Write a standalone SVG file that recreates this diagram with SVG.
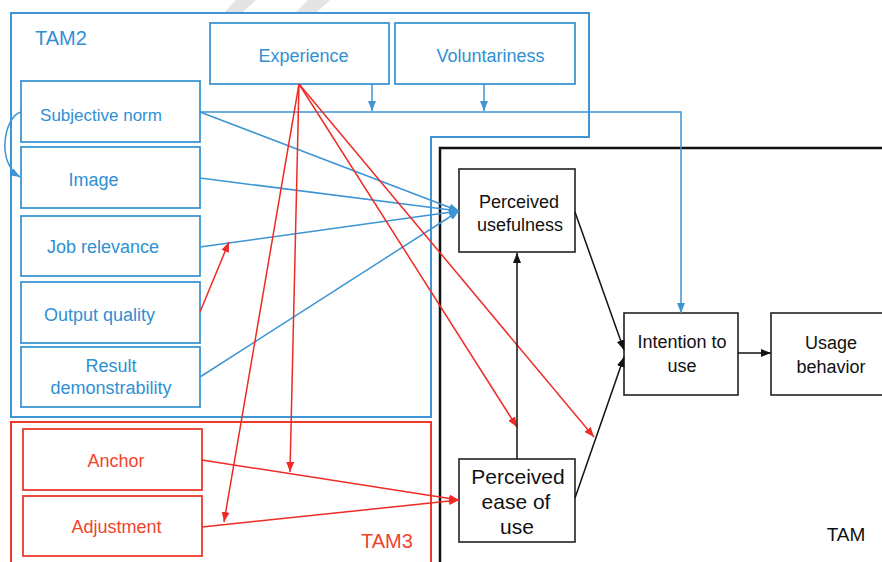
<svg xmlns="http://www.w3.org/2000/svg" width="882" height="562" viewBox="0 0 882 562">
<style>
.bbox{fill:#fff;stroke:#3d95d3;stroke-width:1.8}
.rbox{fill:#fff;stroke:#ee3a2c;stroke-width:1.8}
.kbox{fill:#fff;stroke:#222;stroke-width:1.6}
.bt{font-family:"Liberation Sans",Arial,sans-serif;font-size:18px;fill:#2f90d4;text-anchor:middle}
.rt{font-family:"Liberation Sans",Arial,sans-serif;font-size:18px;fill:#f0432c;text-anchor:middle}
.kt{font-family:"Liberation Sans",Arial,sans-serif;font-size:18px;fill:#111;text-anchor:middle}
.bl{fill:none;stroke:#3d95d3;stroke-width:1.5;marker-end:url(#ab)}
.rl{fill:none;stroke:#ee2b24;stroke-width:1.5;marker-end:url(#ar)}
.kl{fill:none;stroke:#111;stroke-width:1.5;marker-end:url(#ak)}
</style>
<defs>
<marker id="ab" markerUnits="userSpaceOnUse" markerWidth="10" markerHeight="10" viewBox="0 0 10 10" refX="10" refY="5" orient="auto"><path d="M0,1 L10,5 L0,9 Z" fill="#3d95d3"/></marker>
<marker id="ar" markerUnits="userSpaceOnUse" markerWidth="10" markerHeight="10" viewBox="0 0 10 10" refX="10" refY="5" orient="auto"><path d="M0,1 L10,5 L0,9 Z" fill="#ee2b24"/></marker>
<marker id="ak" markerUnits="userSpaceOnUse" markerWidth="10" markerHeight="10" viewBox="0 0 10 10" refX="10" refY="5" orient="auto"><path d="M0,1 L10,5 L0,9 Z" fill="#111"/></marker>
</defs>
<rect width="882" height="562" fill="#fff"/>
<g id="watermark" fill="#e4e4e4">
<polygon points="236,0 256,0 242,13 224,13"/>
<polygon points="308,0 330,0 316,13 295,13"/>
</g>
<g id="TAM">
<rect x="440" y="148" width="460" height="430" fill="none" stroke="#111" stroke-width="2.5"/>
<text class="kt" x="846" y="541" style="font-size:19px">TAM</text>
</g>
<g id="TAM2">
<polygon points="11,13 589,13 589,137 431,137 431,417 11,417" fill="none" stroke="#3d95d3" stroke-width="2"/>
<text x="35" y="45" style="font-family:'Liberation Sans',Arial,sans-serif;font-size:20px;fill:#2f90d4">TAM2</text>
</g>
<g id="TAM3">
<rect x="11" y="422" width="420" height="160" fill="none" stroke="#ee3a2c" stroke-width="2"/>
<text x="361" y="548" style="font-family:'Liberation Sans',Arial,sans-serif;font-size:20px;fill:#f0432c">TAM3</text>
</g>
<g id="experience"><rect class="bbox" x="210" y="23" width="179" height="61"/><text class="bt" x="303.5" y="62">Experience</text></g>
<g id="voluntariness"><rect class="bbox" x="395" y="23" width="180" height="61"/><text class="bt" x="490.5" y="62">Voluntariness</text></g>
<g id="subjective-norm"><rect class="bbox" x="21" y="81" width="179" height="61"/><text class="bt" x="101" y="121" style="font-size:17px">Subjective norm</text></g>
<g id="image"><rect class="bbox" x="21" y="147" width="179" height="61"/><text class="bt" x="93.5" y="186">Image</text></g>
<g id="job-relevance"><rect class="bbox" x="21" y="216" width="179" height="60"/><text class="bt" x="103" y="253">Job relevance</text></g>
<g id="output-quality"><rect class="bbox" x="21" y="282" width="179" height="61"/><text class="bt" x="99.5" y="321">Output quality</text></g>
<g id="result-demonstrability"><rect class="bbox" x="21" y="347" width="179" height="60"/><text class="bt" x="111" y="372">Result</text><text class="bt" x="111" y="394">demonstrability</text></g>
<g id="anchor"><rect class="rbox" x="23" y="429" width="179" height="61"/><text class="rt" x="116" y="467">Anchor</text></g>
<g id="adjustment"><rect class="rbox" x="23" y="496" width="179" height="60"/><text class="rt" x="116.5" y="533">Adjustment</text></g>
<g id="perceived-usefulness"><rect class="kbox" x="459" y="169" width="116" height="83"/><text class="kt" x="519" y="208">Perceived</text><text class="kt" x="520" y="231">usefulness</text></g>
<g id="perceived-ease-of-use"><rect class="kbox" x="459" y="459" width="116" height="83"/><text class="kt" x="518" y="484" style="font-size:21px">Perceived</text><text class="kt" x="516" y="509" style="font-size:21px">ease of</text><text class="kt" x="517" y="534" style="font-size:21px">use</text></g>
<g id="intention-to-use"><rect class="kbox" x="624" y="313" width="114" height="82"/><text class="kt" x="682" y="348">Intention to</text><text class="kt" x="682" y="372">use</text></g>
<g id="usage-behavior"><rect class="kbox" x="771" y="313" width="121" height="82"/><text class="kt" x="831" y="349">Usage</text><text class="kt" x="831" y="373">behavior</text></g>
<g id="connectors">
<path class="bl" d="M200,112 L459,211"/>
<path class="bl" d="M200,178 L459,211"/>
<path class="bl" d="M200,247 L459,211"/>
<path class="bl" d="M200,377 L459,211"/>
<path class="bl" d="M200,112 L681,112 L681,313"/>
<path class="bl" d="M372,84 L372,111"/>
<path class="bl" d="M484,84 L484,111"/>
<path class="bl" d="M21,112 C5,116 -5,162 20,177"/>
<path class="rl" d="M299,84 L224,522"/>
<path class="rl" d="M299,84 L290,472"/>
<path class="rl" d="M299,84 L517,427"/>
<path class="rl" d="M299,84 L594,437"/>
<path class="rl" d="M200,312 L229,242"/>
<path class="rl" d="M202,460 L459,500"/>
<path class="rl" d="M202,527 L459,500"/>
<path class="kl" d="M517,459 L517,253"/>
<path class="kl" d="M575,212 L624,350"/>
<path class="kl" d="M575,498 L624,357"/>
<path class="kl" d="M738,353 L771,353"/>
</g>
</svg>
